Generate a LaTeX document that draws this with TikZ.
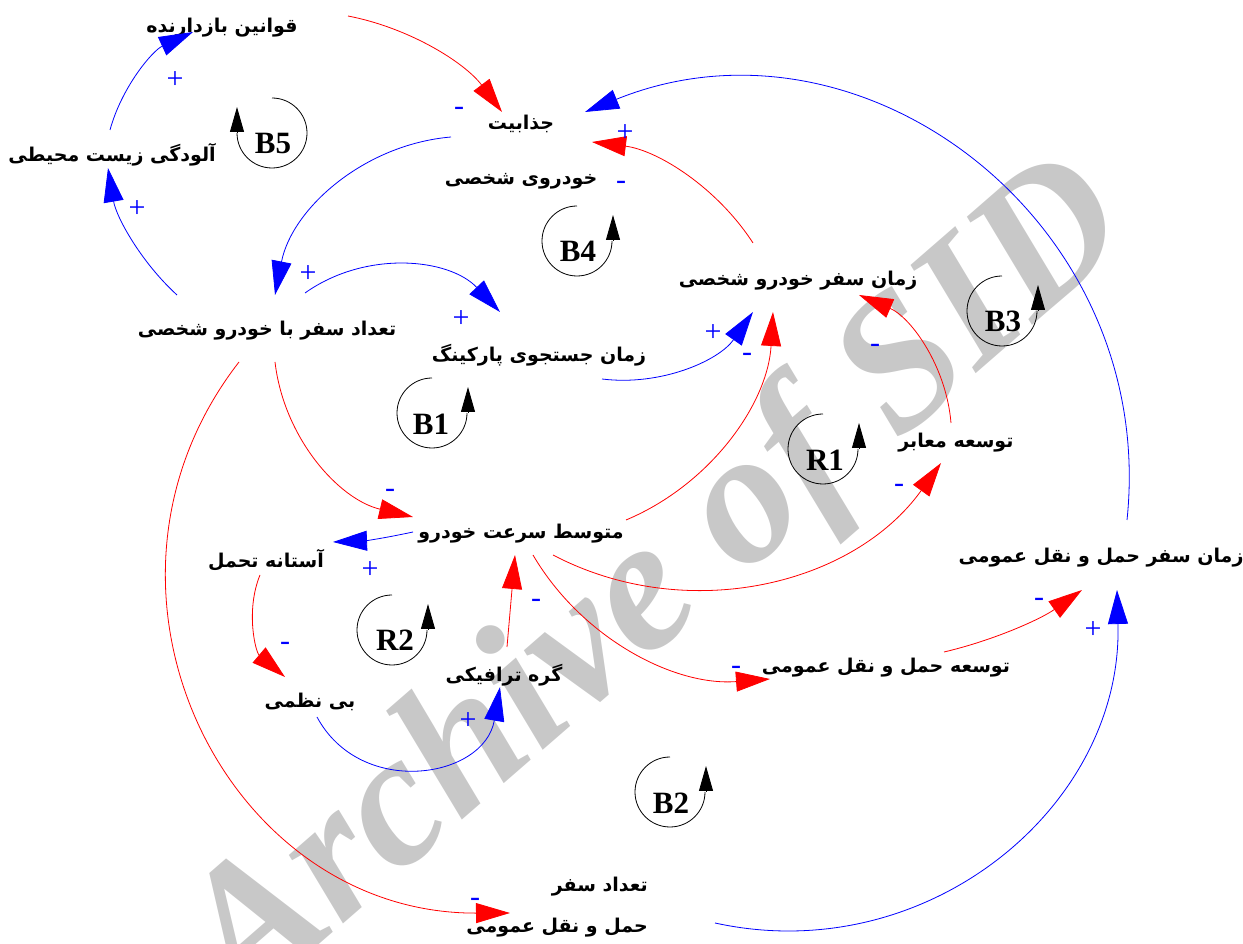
\documentclass[tikz,border=0pt]{standalone}
\usepackage{fontspec}
\usetikzlibrary{arrows.meta}
\TeXXeTstate=1
\newfontfamily\fafont[Script=Arabic]{DejaVu Sans}
\newfontfamily\lsfont{Liberation Serif}
\newcommand{\fa}[1]{\beginR #1\endR}
\definecolor{wmgray}{RGB}{200,200,200}
\tikzset{
  var/.style={font=\fafont\bfseries\fontsize{19}{23}\selectfont, inner sep=0pt, text=black},
  plink/.style={blue, line width=0.8pt, -{Triangle[length=34pt,width=20pt]}},
  nlink/.style={red, line width=0.8pt, -{Triangle[length=34pt,width=20pt]}},
  sgn/.style={blue, font=\lsfont\fontsize{30}{30}\selectfont, inner sep=0pt},
  looplab/.style={font=\lsfont\bfseries\fontsize{31}{31}\selectfont, inner sep=0pt},
  loopc/.style={black, line width=0.8pt},
  looptip/.style={black, line width=0.8pt, -{Triangle[length=25pt,width=14pt]}},
  wm/.style={text=wmgray, font=\lsfont\bfseries\itshape\fontsize{190}{190}\selectfont, inner sep=0pt}
}
\begin{document}
\begin{tikzpicture}[x=1pt,y=1pt]
\useasboundingbox (0,0) rectangle (1243,943);
\begin{scope}
\clip (0,0) rectangle (1243,943);
\node[wm, rotate=41, anchor=base] (wmk) at (691,321) {Archive of SID};
\end{scope}

% variables
\node[var] (law) at (222,915) {\fa{قوانین بازدارنده}};
\node[var] (poll) at (112,788) {\fa{آلودگی زیست محیطی}};
\node[var, align=center] (attr) at (521,790.5) {\fa{جذابیت}\\[32pt]\fa{خودروی شخصی}};
\node[var] (ptime) at (798,662) {\fa{زمان سفر خودرو شخصی}};
\node[var] (ptrips) at (267,612) {\fa{تعداد سفر با خودرو شخصی}};
\node[var] (park) at (539,588) {\fa{زمان جستجوی پارکینگ}};
\node[var] (roads) at (956,500) {\fa{توسعه معابر}};
\node[var] (speed) at (521,409) {\fa{متوسط سرعت خودرو}};
\node[var] (toler) at (266,383) {\fa{آستانه تحمل}};
\node[var] (pttime) at (1101,385) {\fa{زمان سفر حمل و نقل عمومی}};
\node[var] (ptdev) at (886,275) {\fa{توسعه حمل و نقل عمومی}};
\node[var] (jam) at (504,268) {\fa{گره ترافیکی}};
\node[var] (disorder) at (310,241) {\fa{بی نظمی}};
\node[var, align=right, anchor=east] (pttrips) at (648,35.5) {\fa{تعداد سفر}\\[18pt]\fa{حمل و نقل عمومی}};

% links
\draw[nlink] ([shift={(126,12)}]law.center) to[bend left=21, looseness=0.88] ([shift={(-19,40.5)}]attr.center);
\draw[plink] ([shift={(-70,15.5)}]attr.center) to[bend right=37, looseness=0.95] ([shift={(8,36)}]ptrips.center);
\draw[plink] ([shift={(-90,36)}]ptrips.center) to[bend left=19, looseness=0.875] ([shift={(-4,-13)}]poll.center);
\draw[plink] ([shift={(-2,25)}]poll.center) to[bend left=25, looseness=0.89] ([shift={(-29,-4)}]law.center);
\draw[plink] ([shift={(26,38)}]pttime.center) to[bend right=59, looseness=1.13] ([shift={(64,40.5)}]attr.center);
\draw[nlink] ([shift={(-45,38)}]ptime.center) to[bend right=25, looseness=0.89] ([shift={(71,10.5)}]attr.center);
\draw[plink] ([shift={(38,38)}]ptrips.center) to[bend left=41, looseness=0.97] ([shift={(-39,43)}]park.center);
\draw[plink] ([shift={(63,-24)}]park.center) to[bend right=31, looseness=0.92] ([shift={(-45,-31)}]ptime.center);
\draw[nlink] ([shift={(105,14)}]speed.center) to[bend right=32, looseness=0.92] ([shift={(-25,-31)}]ptime.center);
\draw[nlink] ([shift={(8,-31)}]ptrips.center) to[bend right=35, looseness=0.94] ([shift={(-108,17)}]speed.center);
\draw[plink] ([shift={(-108,2)}]speed.center) to[bend left=5] ([shift={(67,18)}]toler.center);
\draw[nlink] ([shift={(-6,-15)}]toler.center) to[bend right=36, looseness=0.94] ([shift={(-25,25)}]disorder.center);
\draw[plink] ([shift={(7,-15)}]disorder.center) to[bend right=71, looseness=1.28] ([shift={(-4,-12)}]jam.center);
\draw[nlink] ([shift={(3,28)}]jam.center) -- ([shift={(-6,-21)}]speed.center);
\draw[nlink] ([shift={(32,-21)}]speed.center) to[bend right=41, looseness=0.97] ([shift={(-15,-20)}]roads.center);
\draw[nlink] ([shift={(-5,20)}]roads.center) to[bend right=31, looseness=0.92] ([shift={(61,-14)}]ptime.center);
\draw[nlink] ([shift={(12,-21)}]speed.center) to[bend right=32, looseness=0.92] ([shift={(-116,-11)}]ptdev.center);
\draw[nlink] ([shift={(58,16)}]ptdev.center) to[bend right=11, looseness=0.86] ([shift={(-19,-32)}]pttime.center);
\draw[plink] ([shift={(67,-15.5)}]pttrips.east) to[bend right=52, looseness=1.06] ([shift={(16,-32)}]pttime.center);
\draw[nlink] ([shift={(-28,-31)}]ptrips.center) to[bend right=64, looseness=1.19] ([shift={(-138,-5.5)}]pttrips.east);

% polarity signs
\node[sgn] (sA) at (459,832) {-};
\node[sgn] (sE) at (625,810) {+};
\node[sgn] (sF) at (621,758) {-};
\node[sgn] (sB) at (308,669) {+};
\node[sgn] (sC) at (137,734) {+};
\node[sgn] (sD) at (175,863) {+};
\node[sgn] (sG) at (461,624) {+};
\node[sgn] (sH) at (713,610) {+};
\node[sgn] (sI) at (747,586) {-};
\node[sgn] (sJ) at (390,450) {-};
\node[sgn] (sK) at (370,373) {+};
\node[sgn] (sL) at (285,297) {-};
\node[sgn] (sM) at (468,222) {+};
\node[sgn] (sN) at (536,340) {-};
\node[sgn] (sO) at (899,455) {-};
\node[sgn] (sP) at (875,595) {-};
\node[sgn] (sQ) at (736,273) {-};
\node[sgn] (sR) at (1039,341) {-};
\node[sgn] (sS) at (1093,313) {+};
\node[sgn] (sT) at (475,41) {-};

% loops
\coordinate (cB5) at (272,810);
\coordinate (cB4) at (577,702);
\coordinate (cB3) at (1002,632);
\coordinate (cB1) at (432,530);
\coordinate (cR1) at (823,494);
\coordinate (cR2) at (392,313);
\coordinate (cB2) at (670,151);

\draw[loopc] ([shift={(0,35)}]cB5) arc[start angle=90, end angle=-180, radius=35];
\draw[looptip] ([shift={(-35,0)}]cB5) -- ++(0,26);
\foreach \c in {cB4,cB3,cB1,cR1,cR2,cB2}{
  \draw[loopc] ([shift={(0,35)}]\c) arc[start angle=90, end angle=360, radius=35];
  \draw[looptip] ([shift={(36,0)}]\c) -- ++(0,26);
}
\node[looplab] (lB5) at (273,799) {B5};
\node[looplab] (lB4) at (578,692) {B4};
\node[looplab] (lB3) at (1003,622) {B3};
\node[looplab] (lB1) at (431,519) {B1};
\node[looplab] (lR1) at (825,483) {R1};
\node[looplab] (lR2) at (395,303) {R2};
\node[looplab] (lB2) at (671,140) {B2};
\end{tikzpicture}
\end{document}
